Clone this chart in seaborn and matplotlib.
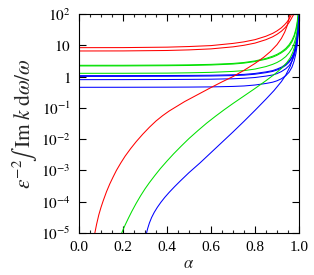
import numpy as np
import pandas as pd
import matplotlib
matplotlib.use("Agg")
import matplotlib.pyplot as plt
import seaborn as sns
from matplotlib.ticker import FixedLocator, FixedFormatter, MultipleLocator

# ---- data: alpha positions and log10 of the plotted value ----
red_flat1_a = [0, 0.2, 0.4, 0.5, 0.6, 0.7, 0.75, 0.8, 0.85, 0.88, 0.9, 0.92, 0.935, 0.945, 0.955, 0.962, 0.967]
red_flat1_l = [0.924, 0.926, 0.94, 0.96, 0.99, 1.06, 1.11, 1.18, 1.29, 1.38, 1.46, 1.56, 1.66, 1.74, 1.84, 1.93, 2.01]
red_flat2_a = [0, 0.2, 0.4, 0.5, 0.6, 0.7, 0.75, 0.8, 0.85, 0.88, 0.9, 0.92, 0.935, 0.945, 0.955, 0.965, 0.972, 0.978]
red_flat2_l = [0.818, 0.82, 0.834, 0.853, 0.885, 0.95, 1.0, 1.07, 1.18, 1.27, 1.35, 1.45, 1.55, 1.63, 1.73, 1.85, 1.94, 2.01]

green_flat_a = [0, 0.2, 0.4, 0.5, 0.6, 0.7, 0.75, 0.8, 0.85, 0.88, 0.9, 0.92, 0.94, 0.955, 0.968, 0.978, 0.986, 0.992, 0.996, 0.999]
green_flat1_l = [0.36, 0.361, 0.368, 0.375, 0.39, 0.42, 0.45, 0.5, 0.58, 0.65, 0.71, 0.79, 0.9, 1.02, 1.16, 1.32, 1.52, 1.75, 2.01, 2.3]
green_flat2_l = [0.34, 0.341, 0.348, 0.355, 0.37, 0.40, 0.43, 0.48, 0.555, 0.62, 0.68, 0.76, 0.86, 0.97, 1.11, 1.27, 1.46, 1.68, 1.93, 2.1]
green_flat3_l = [0.104, 0.105, 0.11, 0.12, 0.135, 0.165, 0.19, 0.24, 0.32, 0.39, 0.45, 0.53, 0.64, 0.76, 0.9, 1.06, 1.25, 1.47, 1.72, 2.01]

blue_flat_a = [0, 0.2, 0.4, 0.5, 0.6, 0.7, 0.75, 0.8, 0.85, 0.88, 0.9, 0.92, 0.94, 0.955, 0.968, 0.978, 0.986, 0.992, 0.996, 1.0]
blue_flat1_l = [0.03, 0.031, 0.034, 0.037, 0.043, 0.057, 0.07, 0.1, 0.15, 0.19, 0.24, 0.3, 0.39, 0.49, 0.62, 0.78, 0.98, 1.22, 1.5, 2.0]
blue_flat2_l = [0.005, 0.006, 0.009, 0.012, 0.018, 0.032, 0.045, 0.075, 0.125, 0.165, 0.21, 0.27, 0.36, 0.46, 0.59, 0.75, 0.95, 1.19, 1.47, 2.0]
blue_flat3_l = [-0.098, -0.097, -0.094, -0.09, -0.084, -0.07, -0.055, -0.03, 0.015, 0.05, 0.095, 0.16, 0.25, 0.35, 0.49, 0.66, 0.88, 1.13, 1.42, 2.0]
blue_flat4_l = [-0.343, -0.342, -0.339, -0.336, -0.33, -0.315, -0.3, -0.27, -0.22, -0.18, -0.135, -0.07, 0.03, 0.14, 0.3, 0.5, 0.74, 1.02, 1.33, 2.0]

red_rise_a = [0.072, 0.08, 0.09, 0.1, 0.11, 0.125, 0.14, 0.155, 0.17, 0.19, 0.21, 0.235, 0.26, 0.29,
              0.32, 0.35, 0.38, 0.41, 0.445, 0.48, 0.52, 0.56, 0.6, 0.65, 0.7, 0.75, 0.8, 0.84,
              0.87, 0.9, 0.92, 0.935, 0.945, 0.952, 0.958]
red_rise_l = [-5.0, -4.72, -4.42, -4.18, -3.97, -3.68, -3.43, -3.21, -3.0, -2.76, -2.54, -2.3, -2.08, -1.84,
              -1.62, -1.42, -1.25, -1.1, -0.95, -0.8, -0.65, -0.5, -0.35, -0.17, 0.0, 0.2, 0.42, 0.62,
              0.8, 1.02, 1.22, 1.42, 1.6, 1.78, 2.0]

green_rise_a = [0.194, 0.2, 0.21, 0.225, 0.24, 0.26, 0.28, 0.3, 0.32, 0.345, 0.37, 0.4, 0.43, 0.465,
                0.5, 0.54, 0.58, 0.62, 0.66, 0.7, 0.75, 0.8, 0.85, 0.89, 0.92, 0.945, 0.96, 0.972,
                0.982, 0.99, 0.995, 0.998]
green_rise_l = [-5.0, -4.9, -4.74, -4.52, -4.31, -4.05, -3.81, -3.59, -3.39, -3.16, -2.94, -2.7, -2.47, -2.22,
                -1.98, -1.73, -1.49, -1.27, -1.06, -0.86, -0.62, -0.38, -0.13, 0.08, 0.26, 0.45, 0.6, 0.78,
                1.0, 1.3, 1.6, 2.0]

blue_rise_a = [0.307, 0.312, 0.32, 0.33, 0.342, 0.356, 0.372, 0.39, 0.41, 0.435, 0.46, 0.5, 0.55,
               0.6, 0.65, 0.7, 0.75, 0.8, 0.85, 0.886, 0.92, 0.94, 0.96, 0.975, 0.987, 0.995, 1.0]
blue_rise_l = [-5.0, -4.86, -4.68, -4.505, -4.34, -4.18, -4.02, -3.86, -3.7, -3.515, -3.34, -3.07, -2.76,
               -2.43, -2.1, -1.77, -1.43, -1.08, -0.72, -0.45, -0.16, 0.05, 0.33, 0.65, 1.05, 1.5, 2.0]

ytick_vals = [1e-5, 1e-4, 1e-3, 1e-2, 1e-1, 1, 10, 100]
ytick_labels = [r'$10^{-5}$', r'$10^{-4}$', r'$10^{-3}$', r'$10^{-2}$',
                r'$10^{-1}$', r'$1$', r'$10$', r'$10^{2}$']
xtick_vals = [0.0, 0.2, 0.4, 0.6, 0.8, 1.0]
xtick_labels = ['0.0', '0.2', '0.4', '0.6', '0.8', '1.0']

RED, GREEN, BLUE = '#ff0000', '#00e000', '#0000ff'

curves = [
    (red_flat1_a, red_flat1_l, RED), (red_flat2_a, red_flat2_l, RED),
    (green_flat_a, green_flat1_l, GREEN), (green_flat_a, green_flat2_l, GREEN),
    (green_flat_a, green_flat3_l, GREEN),
    (blue_flat_a, blue_flat1_l, BLUE), (blue_flat_a, blue_flat2_l, BLUE),
    (blue_flat_a, blue_flat3_l, BLUE), (blue_flat_a, blue_flat4_l, BLUE),
    (red_rise_a, red_rise_l, RED), (green_rise_a, green_rise_l, GREEN),
    (blue_rise_a, blue_rise_l, BLUE),
]

sns.set_theme(style='white')
plt.rcParams['font.family'] = ['Liberation Serif', 'DejaVu Serif']
plt.rcParams['mathtext.fontset'] = 'stix'

fig = plt.figure(figsize=(3.14, 2.75), dpi=100)
ax = fig.add_axes([79 / 314, 1 - 233 / 275, 220 / 314, 219 / 275])

for a, l, c in curves:
    df = pd.DataFrame({'alpha': a, 'val': np.power(10.0, l)})
    sns.lineplot(data=df, x='alpha', y='val', color=c, lw=0.75, ax=ax,
                 estimator=None, sort=False)

ax.set_yscale('log')
ax.set_xlim(0, 1.0)
ax.set_ylim(1e-5, 1e2)
ax.yaxis.set_major_locator(FixedLocator(ytick_vals))
ax.yaxis.set_major_formatter(FixedFormatter(ytick_labels))
ax.yaxis.set_minor_locator(FixedLocator([]))
ax.xaxis.set_major_locator(FixedLocator(xtick_vals))
ax.xaxis.set_major_formatter(FixedFormatter(xtick_labels))
ax.xaxis.set_minor_locator(MultipleLocator(0.05))

ax.tick_params(axis='both', which='major', direction='in', length=5, width=0.8,
               bottom=True, left=True, top=True, right=True,
               labelsize=11, colors='black', pad=6)
ax.tick_params(axis='both', which='minor', direction='in', length=2.5, width=0.8,
               bottom=True, left=True, top=True, right=True)
for s in ax.spines.values():
    s.set_color('black')
    s.set_linewidth(0.8)

ax.set_xlabel(r'$\alpha$', fontsize=12, labelpad=1)
ax.set_ylabel(r'$\epsilon^{-2}\!\int\;\mathrm{Im}\;k\;\mathrm{d}\omega/\omega$', fontsize=15.5, labelpad=1)

fig.savefig('out.png', dpi=100)
